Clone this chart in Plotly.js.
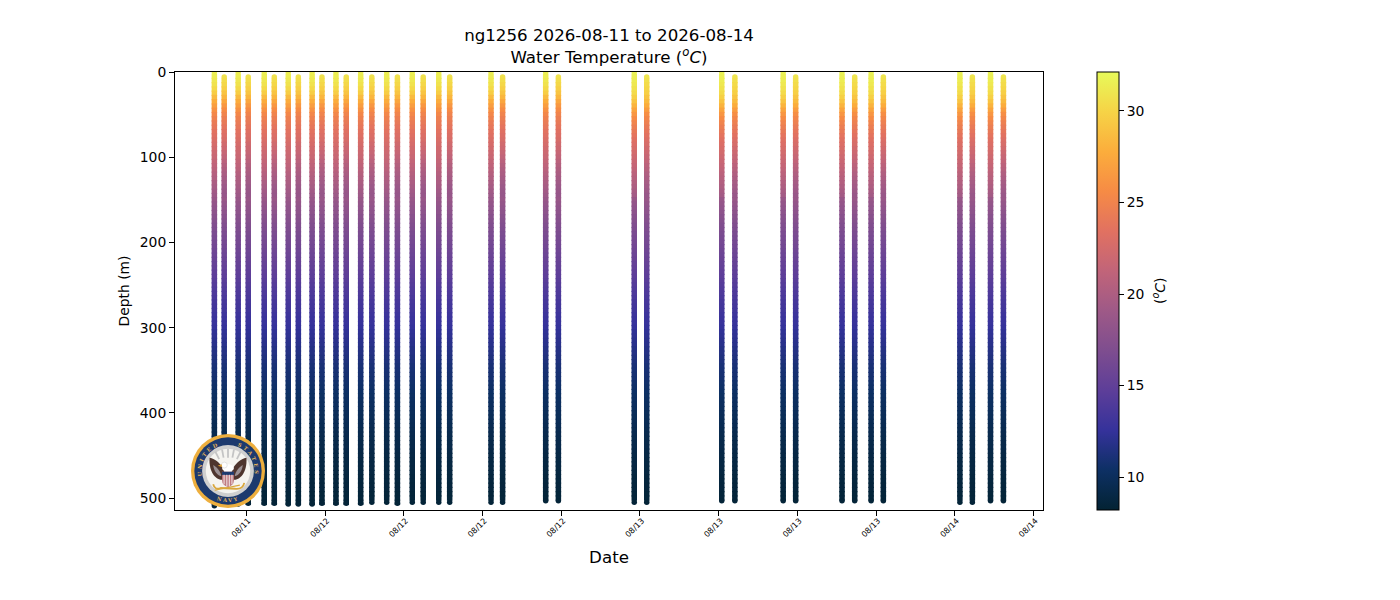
<!DOCTYPE html>
<html>
<head>
<meta charset="utf-8">
<script src="https://cdn.plot.ly/plotly-3.0.1.min.js"></script>
<style>html,body{margin:0;padding:0;background:#fff}</style>
</head>
<body>
<div id="chart" style="width:1400px;height:600px"></div>
<script>
const castTimes = ["2026-08-11 15:34","2026-08-11 16:19","2026-08-11 17:23","2026-08-11 18:09","2026-08-11 19:22","2026-08-11 20:08","2026-08-11 21:12","2026-08-11 21:58","2026-08-11 23:01","2026-08-11 23:46","2026-08-12 00:50","2026-08-12 01:37","2026-08-12 02:43","2026-08-12 03:34","2026-08-12 04:42","2026-08-12 05:31","2026-08-12 06:39","2026-08-12 07:29","2026-08-12 08:40","2026-08-12 09:30","2026-08-12 12:39","2026-08-12 13:32","2026-08-12 16:49","2026-08-12 17:47","2026-08-12 23:34","2026-08-13 00:31","2026-08-13 06:14","2026-08-13 07:14","2026-08-13 10:55","2026-08-13 11:52","2026-08-13 15:24","2026-08-13 16:22","2026-08-13 17:37","2026-08-13 18:33","2026-08-14 00:23","2026-08-14 01:20","2026-08-14 02:43","2026-08-14 03:42"];
const castTops = [0,6,0,6,0,6,0,6,0,6,0,6,0,6,0,6,0,6,0,6,0,6,0,6,0,6,0,6,0,6,0,6,0,6,0,6,0,6];
const castBottoms = [509,506,507,506,506,506,507,507,507,506,506,506,506,505,505,506,505,505,505,505,505,505,503,503,505,505,503,503,503,503,503,503,503,503,505,505,503,503];
const castProfile = [0,1,0,1,0,1,0,1,0,1,0,1,0,1,0,1,0,1,0,1,0,1,0,1,2,3,2,3,2,3,2,3,2,3,2,3,2,3];

const upperDepths = [0,5,10,15,20,25,30,35,40,45,50,55,60,65,70,75,80,85,90,95,100,105,110,115,120,125,130,135,140,145];
const upperA = [31.6,31.4,31.1,30.8,30.3,29.6,28.6,27.7,26.8,26.0,25.3,24.8,24.3,23.9,23.5,23.2,22.9,22.6,22.3,22.0,21.7,21.4,21.1,20.8,20.5,20.2,19.9,19.6,19.3,19.0];
const upperB = [30.8,30.7,30.5,30.2,29.7,29.1,28.3,27.3,26.4,25.6,25.0,24.5,24.1,23.7,23.3,23.0,22.7,22.3,22.0,21.6,21.2,20.8,20.4,20.1,19.8,19.5,19.2,18.9,18.7,18.5];
const upperC = [31.8,31.6,31.4,31.1,30.8,30.4,29.8,29.1,28.2,27.2,26.3,25.6,25.0,24.5,24.1,23.7,23.3,23.0,22.7,22.4,22.1,21.8,21.5,21.2,20.9,20.6,20.3,20.0,19.7,19.4];
const upperD = [31.0,30.9,30.7,30.4,30.1,29.7,29.1,28.5,27.7,26.7,25.8,25.2,24.7,24.2,23.8,23.4,23.0,22.7,22.3,22.0,21.6,21.3,20.9,20.6,20.2,19.9,19.6,19.3,19.0,18.7];
const deepDepths = [150,155,160,165,170,175,180,185,190,195,200,205,210,215,220,225,230,235,240,245,250,255,260,265,270,275,280,285,290,295,300,305,310,315,320,325,330,335,340,345,350,355,360,365,370,375,380,385,390,395,400,405,410,415,420,425,430,435,440,445,450,455,460,465,470,475,480,485,490,495,500,505,510];
const deepTemps = [18.7,18.4,18.1,17.9,17.6,17.4,17.1,16.9,16.7,16.5,16.3,16.1,15.9,15.7,15.5,15.3,15.1,14.9,14.7,14.5,14.3,14.1,13.9,13.7,13.5,13.3,13.2,13.0,12.8,12.7,12.5,12.3,12.2,12.0,11.9,11.7,11.6,11.4,11.3,11.1,11.0,10.9,10.8,10.6,10.5,10.4,10.3,10.2,10.1,10.0,9.9,9.8,9.7,9.6,9.5,9.4,9.3,9.2,9.2,9.1,9.0,8.9,8.9,8.8,8.8,8.7,8.7,8.6,8.6,8.5,8.5,8.4,8.4];

const xTickVals = ["2026-08-11 18:00","2026-08-12 00:00","2026-08-12 06:00","2026-08-12 12:00","2026-08-12 18:00","2026-08-13 00:00","2026-08-13 06:00","2026-08-13 12:00","2026-08-13 18:00","2026-08-14 00:00","2026-08-14 06:00"];
const xTickText = ["08/11","08/12","08/12","08/12","08/12","08/13","08/13","08/13","08/13","08/14","08/14"];
const yTickVals = [0,100,200,300,400,500];
const cbTickVals = [10,15,20,25,30];

const thermal = ["rgb(3,35,51)","rgb(13,48,100)","rgb(53,50,155)","rgb(93,62,153)","rgb(126,77,143)","rgb(158,89,135)","rgb(193,100,121)","rgb(225,113,97)","rgb(246,139,69)","rgb(251,173,60)","rgb(246,211,70)","rgb(231,250,90)"];
const colorscale = thermal.map((c,i)=>[i/(thermal.length-1),c]);

const uppers = [upperA,upperB,upperC,upperD];
const xs=[],ys=[],cs=[],syms=[];
castTimes.forEach((t,k)=>{
  const depths = upperDepths.concat(deepDepths);
  const temps = uppers[castProfile[k]].concat(deepTemps);
  const top = castTops[k], bot = castBottoms[k];
  xs.push(t); ys.push(top); cs.push(temps[0]); syms.push('circle');
  depths.forEach((d,i)=>{
    if(d>top && d<bot){xs.push(t);ys.push(d);cs.push(temps[i]);syms.push('square');}
  });
  xs.push(t); ys.push(bot); cs.push(temps[temps.length-1]); syms.push('circle');
});

const logoSvg = `<svg xmlns="http://www.w3.org/2000/svg" xmlns:xlink="http://www.w3.org/1999/xlink" viewBox="0 0 100 100" width="300" height="300">
<defs><path id="t" d="M 20.5 70.5 A 36 36 0 1 1 79.5 70.5"/><path id="b" d="M 8 50 A 42 42 0 0 0 92 50"/></defs>
<circle cx="50" cy="50" r="50" fill="#eeaf3e"/><circle cx="50" cy="50" r="45.5" fill="#1d3a6e"/>
<circle cx="50" cy="50" r="35" fill="#cfcfcf"/><circle cx="50" cy="50" r="30" fill="#f5f4f0"/>
<text font-family="DejaVu Serif" font-weight="bold" font-size="7" fill="#e3b35a" letter-spacing="3.4"><textPath xlink:href="#t" startOffset="50%" text-anchor="middle">UNITED&#160;&#160;&#160;&#160;STATES</textPath></text>
<text font-family="DejaVu Serif" font-weight="bold" font-size="7" fill="#e3b35a" letter-spacing="2.5"><textPath xlink:href="#b" startOffset="50%" text-anchor="middle">NAVY</textPath></text>
<g stroke="#c4c4c4" stroke-width="2.4"><line x1="38" y1="34" x2="33" y2="24"/><line x1="44" y1="32" x2="42" y2="21"/><line x1="50" y1="32" x2="50" y2="20"/><line x1="56" y1="32" x2="58" y2="21"/><line x1="62" y1="34" x2="67" y2="24"/></g>
<path d="M 25 32 C 33 33 41 41 45 49 L 43 62 C 34 62 24 53 25 32 Z" fill="#4e352e"/>
<path d="M 75 32 C 67 33 59 41 55 49 L 57 62 C 66 62 76 53 75 32 Z" fill="#4e352e"/>
<path d="M 30 42 C 34 44 40 50 41 57 C 35 56 31 50 30 42 Z" fill="#9a8f92"/><path d="M 70 42 C 66 44 60 50 59 57 C 65 56 69 50 70 42 Z" fill="#9a8f92"/>
<ellipse cx="50" cy="46" rx="8" ry="5" fill="#fff"/><circle cx="45" cy="42" r="4" fill="#fff" stroke="#aaa" stroke-width=".4"/>
<path d="M 41.5 41 L 36 43 L 42 44.5 Z" fill="#e0a030"/>
<path d="M 42 51 H 58 V 63 Q 58 69 50 72 Q 42 69 42 63 Z" fill="#bf7a80"/>
<rect x="42" y="51" width="16" height="4.5" fill="#1d3a6e"/>
<g stroke="#ecdcdc" stroke-width="1.5"><line x1="44.7" y1="55" x2="44.7" y2="68"/><line x1="48.4" y1="55" x2="48.4" y2="71"/><line x1="51.8" y1="55" x2="51.8" y2="71"/><line x1="55.3" y1="55" x2="55.3" y2="68"/></g>
<path d="M 30 68 Q 32 76 40 73 L 60 74 Q 70 75 72 66" fill="none" stroke="#d9a73c" stroke-width="2.4"/>
<path d="M 32 76 L 66 69" stroke="#d9a73c" stroke-width="1.6"/>
</svg>`;

const px = {l:175, r:1043, t:72, b:510};
const W = px.r-px.l, H = px.b-px.t;

const data = [{
  type:'scatter', mode:'markers', x:xs, y:ys,
  hoverinfo:'skip',
  marker:{size:5.5, symbol:syms, color:cs, cmin:8.2, cmax:32.13, colorscale:colorscale, line:{width:0},
    colorbar:{x:(1097-px.l)/W, xanchor:'left', xpad:0, ypad:0, y:0.5, yanchor:'middle', len:1, lenmode:'fraction',
      thickness:22, thicknessmode:'pixels', outlinecolor:'#000', outlinewidth:1, tickvals:cbTickVals, ticks:'outside', ticklen:5, tickwidth:1, tickcolor:'#000',
      tickfont:{family:'DejaVu Sans',size:13.9,color:'#000'}}}
}];

const layout = {
  width:1400, height:600, autosize:false,
  paper_bgcolor:'#fff', plot_bgcolor:'#fff', showlegend:false,
  margin:{l:px.l, r:1400-px.r, t:px.t, b:600-px.b, pad:0},
  font:{family:'DejaVu Sans',color:'#000'},
  title:{text:'ng1256 2026-08-11 to 2026-08-14<br>Water Temperature (<i><sup>o</sup>C</i>)', font:{family:'DejaVu Sans',size:16.67,color:'#000'}, x:0.5, xref:'paper', xanchor:'center', y:1, yref:'container', yanchor:'top', pad:{t:41}},
  xaxis:{type:'date', range:["2026-08-11 12:34","2026-08-14 06:43"], tickmode:'array', tickvals:xTickVals, ticktext:xTickText, tickangle:-45,
    tickfont:{family:'DejaVu Sans',size:8,color:'#000'}, ticks:'outside', ticklen:5, tickwidth:1, tickcolor:'#000',
    ticklabelshift:2, ticklabelstandoff:-3,
    showgrid:false, zeroline:false, showline:true, mirror:true, linecolor:'#000', linewidth:1,
    title:{text:'Date', font:{family:'DejaVu Sans',size:16.67,color:'#000'}, standoff:13}},
  yaxis:{range:[514,0], tickmode:'array', tickvals:yTickVals, tickfont:{family:'DejaVu Sans',size:13.9,color:'#000'}, ticks:'outside', ticklen:5, tickwidth:1, tickcolor:'#000',
    showgrid:false, zeroline:false, showline:true, mirror:true, linecolor:'#000', linewidth:1,
    title:{text:'Depth (m)', font:{family:'DejaVu Sans',size:13.9,color:'#000'}, standoff:6}},
  annotations:[{xref:'paper',yref:'paper',x:(1159-px.l)/W,y:(px.b-291)/H,text:'(<i><sup>o</sup>C</i>)',textangle:-90,showarrow:false,xanchor:'center',yanchor:'middle',font:{family:'DejaVu Sans',size:13.9,color:'#000'}}],
  images:[{source:'data:image/svg+xml;charset=utf-8,'+encodeURIComponent(logoSvg), xref:'paper', yref:'paper',
    x:(191-px.l)/W, y:(px.b-434)/H, sizex:74/W, sizey:74/H, xanchor:'left', yanchor:'top', sizing:'stretch', layer:'above'}]
};

Plotly.newPlot('chart', data, layout, {displayModeBar:false, staticPlot:true});
</script>
</body>
</html>
